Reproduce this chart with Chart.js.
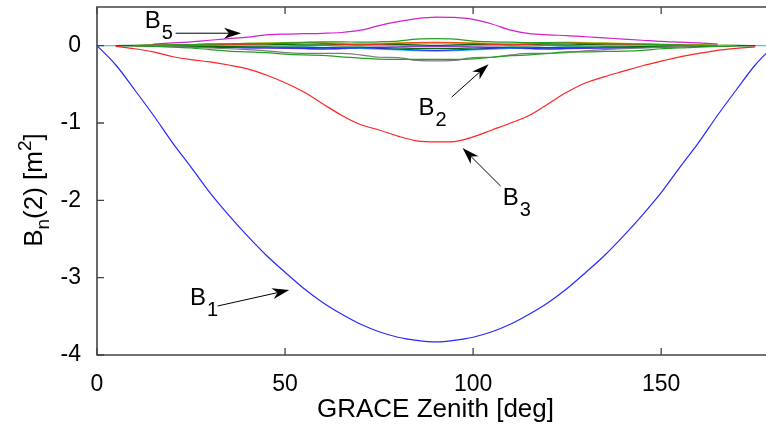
<!DOCTYPE html>
<html lang="en">
<head>
<meta charset="UTF-8">
<title>B_n(2) vs GRACE Zenith</title>
<script src="https://cdn.jsdelivr.net/npm/chart.js@4.4.0/dist/chart.umd.min.js"></script>
<style>
    html, body { margin: 0; padding: 0; background: #fff; overflow: hidden; }
    .wrap { width: 766px; height: 429px; overflow: hidden; }
    canvas { display: block; }
</style>
</head>
<body>
<div class="wrap"><canvas id="chart" width="780" height="429" style="width:780px;height:429px"></canvas></div>
<script>
// zenith angle grid [deg]
const zenith = [0,5,10,15,20,25,30,35,40,45,50,55,60,65,70,75,80,85,90,95,100,105,110,115,120,125,130,135,140,145,150,155,160,165,170,175,180];

const xTicks = [0, 50, 100, 150];
const yTicks = [-4, -3, -2, -1, 0];

// B_n(2) values, null = no curve there
const b1 = [0,-0.25,-0.57,-0.9,-1.25,-1.57,-1.9,-2.19,-2.46,-2.71,-2.93,-3.14,-3.32,-3.47,-3.6,-3.7,-3.77,-3.81,-3.83,-3.81,-3.77,-3.7,-3.6,-3.47,-3.32,-3.14,-2.93,-2.71,-2.46,-2.19,-1.9,-1.57,-1.25,-0.9,-0.57,-0.25,0];
const b3 = [null,-0.01,-0.04,-0.08,-0.14,-0.18,-0.21,-0.25,-0.3,-0.38,-0.48,-0.6,-0.75,-0.9,-1.02,-1.09,-1.17,-1.23,-1.245,-1.24,-1.18,-1.09,-1.0,-0.9,-0.75,-0.6,-0.48,-0.4,-0.33,-0.26,-0.2,-0.145,-0.1,-0.06,-0.035,-0.015,null];
const b5 = [null,null,null,0.02,0.035,0.05,0.07,0.09,0.11,0.14,0.15,0.155,0.16,0.17,0.2,0.26,0.31,0.35,0.37,0.365,0.34,0.28,0.2,0.155,0.14,0.13,0.115,0.1,0.085,0.07,0.055,0.045,0.035,0.02,null,null,null];
const b2 = [null,null,0,-0.01,-0.02,-0.03,-0.05,-0.07,-0.08,-0.09,-0.11,-0.12,-0.125,-0.145,-0.16,-0.175,-0.178,-0.178,-0.178,-0.178,-0.17,-0.15,-0.13,-0.12,-0.1,-0.08,-0.08,-0.075,-0.07,-0.06,-0.04,-0.03,-0.02,-0.01,0,null,null];
const bGray = [null,null,null,0,-0.01,-0.02,-0.03,-0.04,-0.05,-0.067,-0.09,-0.1,-0.1,-0.1,-0.12,-0.15,-0.155,-0.19,-0.196,-0.19,-0.155,-0.15,-0.12,-0.1,-0.1,-0.09,-0.067,-0.05,-0.04,-0.03,-0.02,-0.01,0,null,null,null,null];
const bGreenUp = [null,null,0,0.005,0.01,0.015,0.02,0.025,0.03,0.03,0.035,0.04,0.05,0.05,0.045,0.05,0.06,0.085,0.09,0.085,0.06,0.05,0.045,0.04,0.04,0.035,0.03,0.03,0.025,0.02,0.015,0.01,0.005,0,null,null,null];
const bRedSmall = [null,null,0,0.003,0.005,0.008,0.01,0.015,0.02,0.025,0.03,0.035,0.03,0.02,0.01,0.02,0.03,0.035,0.035,0.035,0.03,0.02,0.01,0.02,0.03,0.035,0.03,0.025,0.02,0.015,0.01,0.005,0.003,0,null,null,null];
const bYellow = [null,null,0,0.005,0.01,0.015,0.02,0.025,0.03,0.035,0.04,0.045,0.04,0.03,0.025,0.03,0.035,0.04,0.045,0.04,0.035,0.03,0.025,0.03,0.04,0.045,0.04,0.035,0.03,0.025,0.02,0.015,0.01,0.005,0,null,null];
const bDkGreen = [null,0,0.005,0.01,0.015,0.015,0.02,0.02,0.02,0.02,0.015,0.01,0.01,0.015,0.02,0.02,0.015,0.01,0.005,0.01,0.015,0.02,0.02,0.015,0.01,0.01,0.015,0.02,0.02,0.02,0.015,0.01,0.01,0.005,0.003,0,null];
const bDkGreen2 = [null,0,-0.003,-0.005,-0.008,-0.01,-0.01,-0.012,-0.015,-0.015,-0.02,-0.02,-0.025,-0.02,-0.02,-0.025,-0.03,-0.035,-0.035,-0.035,-0.03,-0.025,-0.02,-0.02,-0.025,-0.02,-0.02,-0.015,-0.015,-0.012,-0.01,-0.01,-0.008,-0.005,-0.003,0,null];
const bBlueSmall = [null,null,0,-0.005,-0.01,-0.015,-0.02,-0.025,-0.03,-0.03,-0.03,-0.035,-0.04,-0.035,-0.03,-0.035,-0.045,-0.055,-0.06,-0.055,-0.045,-0.035,-0.03,-0.035,-0.04,-0.035,-0.03,-0.03,-0.03,-0.025,-0.02,-0.015,-0.01,-0.005,0,null,null];
const bLtCyan = [null,null,null,0,-0.005,-0.01,-0.01,-0.015,-0.015,-0.02,-0.02,-0.02,-0.025,-0.03,-0.035,-0.045,-0.055,-0.065,-0.07,-0.065,-0.055,-0.045,-0.035,-0.03,-0.025,-0.02,-0.02,-0.02,-0.015,-0.015,-0.01,-0.01,-0.005,0,null,null,null];
const bPurple = [null,null,null,0,-0.005,-0.01,-0.015,-0.02,-0.025,-0.03,-0.035,-0.04,-0.045,-0.04,-0.03,-0.02,-0.015,-0.01,-0.01,-0.01,-0.015,-0.02,-0.03,-0.04,-0.045,-0.04,-0.035,-0.03,-0.025,-0.02,-0.015,-0.01,-0.005,0,null,null,null];
const bCyan = [0,0,0,0,0,0,0,0,0,0,0,0,0,0,0,0,0,0,0,0,0,0,0,0,0,0,0,0,0,0,0,0,0,0,0,0,0];

// first entry is drawn on top
const series = [
    { data: b1, color: '#2828ff' },
    { data: b3, color: '#ff2424' },
    { data: b5, color: '#d020d0' },
    { data: b2, color: '#22a022' },
    { data: bGray, color: '#7c7c7c' },
    { data: bGreenUp, color: '#22a022' },
    { data: bRedSmall, color: '#ff2424' },
    { data: bYellow, color: '#c8c400' },
    { data: bDkGreen, color: '#0a6a0a' },
    { data: bDkGreen2, color: '#0a6a0a' },
    { data: bBlueSmall, color: '#2828ff' },
    { data: bLtCyan, color: '#20c8ff' },
    { data: bPurple, color: '#9040c0' },
    { data: bCyan, color: '#40d0d0' }
];

// label annotations in data coordinates
const notes = [
    { sub: '1', at: [24.7, -3.353], from: [32.1, -3.366], to: [51.1, -3.16] },
    { sub: '2', at: [85.5, -0.898], from: [94.3, -0.665], to: [104.1, -0.239] },
    { sub: '3', at: [107.9, -2.06], from: [107.3, -1.815], to: [97.2, -1.324] },
    { sub: '5', at: [12.7, 0.226], from: [20.9, 0.161], to: [38.3, 0.161] }
];

const FONT = '"Liberation Sans", Arial, Helvetica, sans-serif';
const AXIS_COLOR = '#444';

function drawArrow(ctx, x1, y1, x2, y2) {
    const a = Math.atan2(y2 - y1, x2 - x1);
    const len = 17, half = 5.5, notch = 12;
    ctx.beginPath();
    ctx.moveTo(x1, y1);
    ctx.lineTo(x2 - Math.cos(a) * notch, y2 - Math.sin(a) * notch);
    ctx.stroke();
    ctx.save();
    ctx.translate(x2, y2);
    ctx.rotate(a);
    ctx.beginPath();
    ctx.moveTo(0, 0);
    ctx.lineTo(-len, -half);
    ctx.lineTo(-notch, 0);
    ctx.lineTo(-len, half);
    ctx.closePath();
    ctx.fill();
    ctx.restore();
}

const framePlugin = {
    id: 'frame',
    afterDatasetsDraw(chart) {
        const ctx = chart.ctx;
        const { left, right, top, bottom } = chart.chartArea;
        const xs = chart.scales.x, ys = chart.scales.y;
        ctx.save();
        ctx.strokeStyle = AXIS_COLOR;
        ctx.lineWidth = 1.6;
        ctx.beginPath();
        ctx.moveTo(right + 2, top);
        ctx.lineTo(left, top);
        ctx.lineTo(left, bottom);
        ctx.lineTo(right + 2, bottom);
        ctx.stroke();
        ctx.lineWidth = 1.3;
        ctx.beginPath();
        xTicks.forEach(v => {
            const px = xs.getPixelForValue(v);
            ctx.moveTo(px, bottom); ctx.lineTo(px, bottom - 7);
            ctx.moveTo(px, top); ctx.lineTo(px, top + 7);
        });
        yTicks.forEach(v => {
            const py = ys.getPixelForValue(v);
            ctx.moveTo(left, py); ctx.lineTo(left + 7, py);
        });
        ctx.stroke();

        // annotations
        ctx.fillStyle = '#000';
        ctx.strokeStyle = '#000';
        ctx.lineWidth = 1;
        notes.forEach(n => {
            const tx = xs.getPixelForValue(n.at[0]);
            const ty = ys.getPixelForValue(n.at[1]);
            ctx.font = '24px ' + FONT;
            ctx.textBaseline = 'alphabetic';
            ctx.textAlign = 'left';
            ctx.fillText('B', tx, ty);
            const w = ctx.measureText('B').width;
            ctx.font = '20px ' + FONT;
            ctx.fillText(n.sub, tx + w + 1, ty + 11);
            drawArrow(ctx,
                xs.getPixelForValue(n.from[0]), ys.getPixelForValue(n.from[1]),
                xs.getPixelForValue(n.to[0]), ys.getPixelForValue(n.to[1]));
        });

        // x axis title
        ctx.font = '26px ' + FONT;
        ctx.textAlign = 'center';
        ctx.fillText('GRACE Zenith [deg]', (left + right) / 2, 417);

        // y axis title, rotated: B_n(2) [m^2]
        const parts = [
            { t: 'B', size: 26, dy: 0 },
            { t: 'n', size: 19, dy: 7 },
            { t: '(2) [m', size: 26, dy: 0 },
            { t: '2', size: 19, dy: -11 },
            { t: ']', size: 26, dy: 0 }
        ];
        let total = 0;
        parts.forEach(p => {
            ctx.font = p.size + 'px ' + FONT;
            p.w = ctx.measureText(p.t).width;
            total += p.w;
        });
        ctx.translate(33, 190);
        ctx.rotate(-Math.PI / 2);
        ctx.textAlign = 'left';
        let cx = -total / 2;
        parts.forEach(p => {
            ctx.font = p.size + 'px ' + FONT;
            ctx.fillText(p.t, cx, 9 + p.dy);
            cx += p.w;
        });
        ctx.restore();
    }
};

const ctx = document.getElementById('chart').getContext('2d');
new Chart(ctx, {
    type: 'line',
    data: {
        datasets: series.map(s => ({
            data: zenith.map((z, i) => ({ x: z, y: s.data[i] })).filter(p => p.y !== null),
            borderColor: s.color,
            borderWidth: 1.2,
            pointRadius: 0,
            fill: false,
            cubicInterpolationMode: 'monotone'
        }))
    },
    options: {
        responsive: false,
        animation: false,
        events: [],
        layout: { padding: { top: 7, right: 6, left: 0, bottom: 0 } },
        plugins: { legend: { display: false }, tooltip: { enabled: false } },
        scales: {
            x: {
                type: 'linear',
                min: 0,
                max: 180,
                grid: { display: false },
                border: { display: false },
                afterBuildTicks: s => { s.ticks = xTicks.map(v => ({ value: v })); },
                afterFit: s => { s.height = 74; },
                ticks: { color: '#000', font: { family: FONT, size: 23 }, padding: 8, maxRotation: 0 }
            },
            y: {
                type: 'linear',
                min: -4,
                max: 0.5,
                grid: { display: false },
                border: { display: false },
                afterBuildTicks: s => { s.ticks = yTicks.map(v => ({ value: v })); },
                afterFit: s => { s.width = 97; s.paddingTop = 0; s.paddingBottom = 0; },
                ticks: { color: '#000', font: { family: FONT, size: 23 }, padding: 8 }
            }
        }
    },
    plugins: [framePlugin]
});
</script>
</body>
</html>
